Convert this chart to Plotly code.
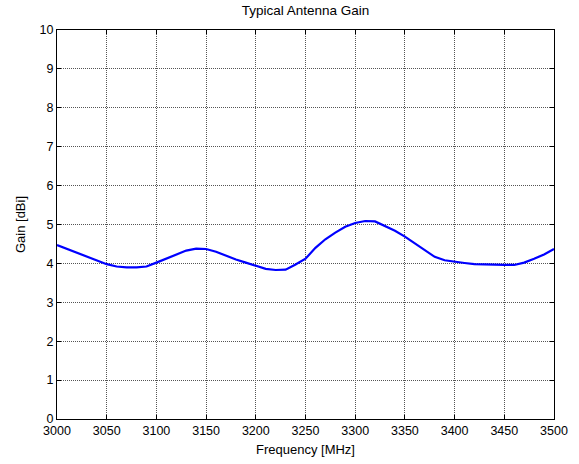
import plotly.graph_objects as go

freq = [3000, 3010, 3020, 3030, 3040, 3050, 3060, 3070, 3080, 3090,
        3100, 3110, 3120, 3130, 3140, 3150, 3160, 3170, 3180, 3190,
        3200, 3210, 3220, 3230, 3240, 3250, 3260, 3270, 3280, 3290,
        3300, 3310, 3320, 3330, 3340, 3350, 3360, 3370, 3380, 3390,
        3400, 3410, 3420, 3430, 3440, 3450, 3460, 3470, 3480, 3490, 3500]
gain = [4.47, 4.37, 4.26, 4.16, 4.07, 3.98, 3.92, 3.90, 3.90, 3.92,
        4.02, 4.12, 4.24, 4.33, 4.38, 4.37, 4.30, 4.19, 4.10, 4.02,
        3.95, 3.86, 3.83, 3.84, 3.97, 4.12, 4.40, 4.62, 4.79, 4.94,
        5.04, 5.09, 5.08, 4.97, 4.84, 4.69, 4.52, 4.34, 4.17, 4.08,
        4.04, 4.01, 3.98, 3.97, 3.96, 3.96, 3.96, 4.02, 4.12, 4.23, 4.37]
x_ticks = [3000, 3050, 3100, 3150, 3200, 3250, 3300, 3350, 3400, 3450, 3500]
y_ticks = [0, 1, 2, 3, 4, 5, 6, 7, 8, 9, 10]

fig = go.Figure()
fig.add_trace(go.Scatter(x=freq, y=gain, mode="lines",
                         line=dict(color="#0000ff", width=2.2)))

fam = "Liberation Sans, Arial, sans-serif"
font = dict(family=fam, size=12.5, color="#000000")
title_font = dict(family=fam, size=13.5, color="#000000")
axt_font = dict(family=fam, size=13, color="#000000")
axis_common = dict(
    showline=True, linecolor="#000000", linewidth=1, mirror="ticks",
    ticks="inside", ticklen=4, tickcolor="#000000",
    showgrid=True, gridcolor="#555555", griddash="1px,1px", gridwidth=1,
    zeroline=False, tickfont=font, automargin=False,
)
fig.update_xaxes(range=[3000, 3500], tickvals=x_ticks,
                 title=dict(text="Frequency [MHz]", font=axt_font, standoff=7),
                 **axis_common)
fig.update_yaxes(range=[0, 10], tickvals=y_ticks,
                 title=dict(text="Gain [dBi]", font=axt_font, standoff=11),
                 **axis_common)
fig.update_layout(
    width=579, height=464,
    margin=dict(l=57, r=25, t=30, b=45),
    paper_bgcolor="#ffffff", plot_bgcolor="#ffffff",
    showlegend=False,
    font=font,
    title=dict(text="Typical Antenna Gain", x=0.5, xanchor="center",
               y=0.977, yanchor="middle", font=title_font, xref="paper"),
)
fig.write_html("out.html", config={"displayModeBar": False},
               post_script="document.body.style.margin='0';document.body.style.overflow='hidden';")
